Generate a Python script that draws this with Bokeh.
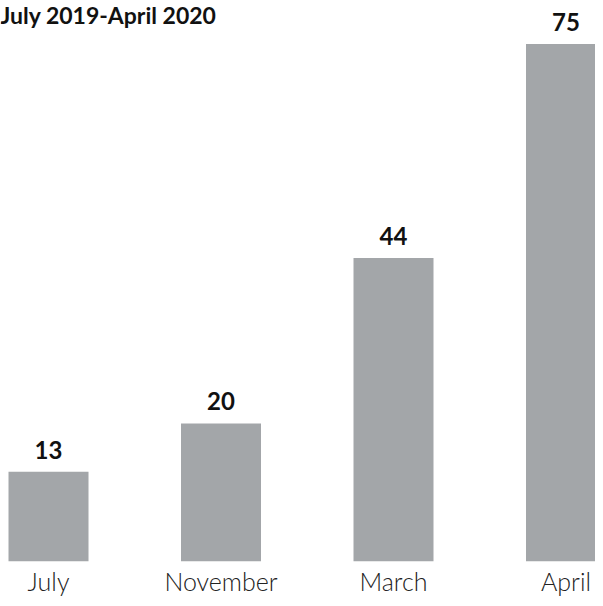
from bokeh.plotting import figure
from bokeh.models import ColumnDataSource, Range1d, FixedTicker, Label
from bokeh.core.properties import value
from bokeh.embed import file_html
from bokeh.resources import INLINE

months = ["July", "November", "March", "April"]
counts = [13, 20, 44, 75]
title_text = "July 2019-April 2020"

xs = list(range(len(months)))
src = ColumnDataSource(dict(x=xs, top=counts, lab=[str(c) for c in counts]))

W, H, BOTTOM = 595, 598, 36
p = figure(width=W, height=H, output_backend="svg", toolbar_location=None,
           x_range=Range1d(-0.2783, 3.171), y_range=Range1d(0, 81.3),
           min_border_left=0, min_border_right=0, min_border_top=0, min_border_bottom=BOTTOM)
p.vbar(x="x", top="top", width=0.4638, bottom=0, source=src, color="#a3a6a9", line_color=None)
p.text(x="x", y="top", text="lab", source=src, text_align="center", text_baseline="alphabetic",
       y_offset=-22, text_font=value("Lato"), text_font_style="bold", text_font_size="24px",
       text_color="#111111")

p.xaxis.ticker = FixedTicker(ticks=xs)
p.xaxis.major_label_overrides = {i: m for i, m in zip(xs, months)}
p.xaxis.major_label_text_font = "Lato Light, Lato"
p.xaxis.major_label_text_font_size = "25px"
p.xaxis.major_label_text_color = "#222222"
p.xaxis.major_label_standoff = 4
p.xaxis.major_tick_out = 0
p.xaxis.major_tick_in = 0
p.xaxis.axis_line_color = None
p.xaxis.major_tick_line_color = None
p.xaxis.minor_tick_line_color = None
p.yaxis.visible = False
p.xgrid.grid_line_color = None
p.ygrid.grid_line_color = None
p.outline_line_color = None

p.add_layout(Label(x=-0.2783, y=81.3, text=title_text, x_offset=0, y_offset=0,
                   text_baseline="top", text_font="Lato", text_font_style="bold",
                   text_font_size="23px", text_color="#111111"))

open("out.html", "w").write(file_html(p, INLINE))
